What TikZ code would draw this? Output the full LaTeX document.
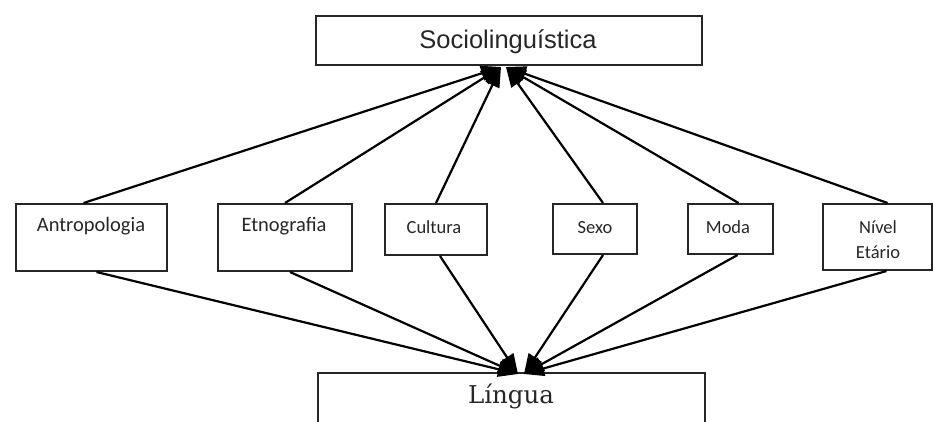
\documentclass[tikz,border=0pt]{standalone}
\usepackage{fontspec}
\setmainfont{Carlito}
\newfontfamily\socfont{Liberation Sans}
\newfontfamily\linguafont{DejaVu Serif}
\usetikzlibrary{arrows.meta}
\begin{document}
\begin{tikzpicture}[x=1pt,y=-1pt,
  box/.style={draw=black!85, line width=2pt, rectangle, inner sep=0pt},
  arr/.style={draw=black, line width=2.2pt, -{Triangle[length=20pt,width=15pt]}},
  lbl/.style={inner sep=0pt, anchor=base, text=black!85, font=\fontsize{18.5}{20}\selectfont},
  biglbl/.style={inner sep=0pt, anchor=base, text=black!85, font=\fontsize{20.5}{22}\selectfont}]
\clip (0,0) rectangle (934,421);
% boxes
\node[box, minimum width=386pt, minimum height=49pt] (soc) at (509,40.5) {};
\node[box, minimum width=151pt, minimum height=67pt] (ant) at (91.5,237.5) {};
\node[box, minimum width=134pt, minimum height=67pt] (etn) at (285,237.5) {};
\node[box, minimum width=102pt, minimum height=51pt] (cul) at (436,229.5) {};
\node[box, minimum width=84pt, minimum height=50pt] (sex) at (595,229) {};
\node[box, minimum width=85pt, minimum height=50pt] (mod) at (730.5,229) {};
\node[box, minimum width=109pt, minimum height=66pt] (niv) at (877.5,237) {};
\node[box, minimum width=387pt, minimum height=67pt] (lin) at (511.5,406.5) {};
% texts
\node[inner sep=0pt, anchor=base, text=black!85, font=\socfont\fontsize{25.5}{27}\selectfont] (soct) at (508,48) {Sociolinguística};
\node[inner sep=0pt, anchor=base, text=black!85, font=\linguafont\fontsize{24.5}{26}\selectfont] (lint) at (511,403) {Língua};
\node[biglbl] (antt) at (91,231) {Antropologia};
\node[biglbl] (etnt) at (284,231) {Etnografia};
\node[lbl] (cult) at (434,233) {Cultura};
\node[lbl] (sext) at (595,233) {Sexo};
\node[lbl] (modt) at (728,233) {Moda};
\node[lbl] (nivt) at (878,233) {Nível};
\node[lbl] (etat) at (878,258) {Etário};
% arrow tips
\coordinate (tl) at (501,67);
\coordinate (tr) at (506,67);
\coordinate (bl) at (518,374);
\coordinate (br) at (524,374);
% arrows to Sociolinguística
\draw[arr] ([xshift=-8pt]ant.north) -- (tl);
\draw[arr] (etn.north) -- (tl);
\draw[arr] (cul.north) -- (tl);
\draw[arr] ([xshift=8pt]sex.north) -- (tr);
\draw[arr] ([xshift=8pt]mod.north) -- (tr);
\draw[arr] ([xshift=10pt]niv.north) -- (tr);
% arrows to Língua
\draw[arr] ([xshift=5pt]ant.south) -- (bl);
\draw[arr] ([xshift=5pt]etn.south) -- (bl);
\draw[arr] ([xshift=4pt]cul.south) -- (bl);
\draw[arr] ([xshift=8pt]sex.south) -- (br);
\draw[arr] ([xshift=7pt]mod.south) -- (br);
\draw[arr] ([xshift=9pt]niv.south) -- (br);
\end{tikzpicture}
\end{document}
